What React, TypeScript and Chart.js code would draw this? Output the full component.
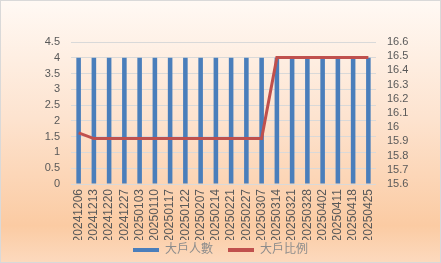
import React, { useEffect, useRef } from "react";
import { Chart, registerables } from "chart.js";

Chart.register(...registerables);

const categories = [
  "20241206", "20241213", "20241220", "20241227", "20250103", "20250110",
  "20250117", "20250122", "20250207", "20250214", "20250221", "20250227",
  "20250307", "20250314", "20250321", "20250328", "20250402", "20250411",
  "20250418", "20250425",
];
const holdersCount = [4, 4, 4, 4, 4, 4, 4, 4, 4, 4, 4, 4, 4, 4, 4, 4, 4, 4, 4, 4];
const holdersRatio = [
  15.96, 15.92, 15.92, 15.92, 15.92, 15.92, 15.92, 15.92, 15.92, 15.92,
  15.92, 15.92, 15.92, 16.49, 16.49, 16.49, 16.49, 16.49, 16.49, 16.49,
];
const seriesNames = ["大戶人數", "大戶比例"];

const fmt = (v: any) => String(Number(Number(v).toFixed(1)));

const legendShift = {
  id: "legendShift",
  afterLayout(chart: any) {
    const l = chart.legend;
    if (l) {
      l.top -= 11;
    }
  },
};

export default function App() {
  const ref = useRef<HTMLCanvasElement | null>(null);
  useEffect(() => {
    document.body.style.margin = "0";
    const ctx = ref.current!;
    const font = { family: "'Liberation Sans', 'Noto Sans CJK TC', sans-serif", size: 11 };
    const chart = new Chart(ctx, {
      type: "bar",
      data: {
        labels: categories,
        datasets: [
          {
            type: "bar",
            label: seriesNames[0],
            data: holdersCount,
            backgroundColor: "#4A7EBB",
            borderWidth: 0,
            barPercentage: 0.3,
            categoryPercentage: 1,
            yAxisID: "y",
            order: 2,
          },
          {
            type: "line",
            label: seriesNames[1],
            data: holdersRatio,
            borderColor: "#C0504D",
            backgroundColor: "#C0504D",
            borderWidth: 3,
            pointRadius: 0,
            tension: 0,
            yAxisID: "y1",
            order: 1,
          },
        ],
      },
      plugins: [legendShift],
      options: {
        animation: false,
        responsive: false,
        maintainAspectRatio: false,
        layout: { padding: { top: 42, bottom: -14, left: 0, right: 0 } },
        plugins: {
          tooltip: { enabled: false },
          legend: {
            position: "bottom",
            labels: {
              color: "#8C8C8C",
              font: { family: "'Liberation Sans', 'Noto Sans CJK TC', sans-serif", size: 12 },
              boxWidth: 26,
              boxHeight: 4,
              padding: 15,
              sort: (a: any, b: any) => a.datasetIndex - b.datasetIndex,
              generateLabels: (c: any) => {
                const items = Chart.defaults.plugins.legend.labels.generateLabels(c);
                return items.map((it: any) => ({ ...it, lineWidth: 0, strokeStyle: "transparent" }));
              },
            },
          },
        },
        scales: {
          x: {
            grid: { display: false, drawTicks: false },
            border: { display: false },
            ticks: {
              color: "#595959",
              font: { ...font, size: 12 },
              minRotation: 90,
              maxRotation: 90,
              padding: 5,
              autoSkip: false,
            },
            afterFit: (s: any) => { s.height = 56; },
          },
          y: {
            position: "left",
            min: 0,
            max: 4.5,
            grid: { color: "#D9D9D9", drawTicks: false, lineWidth: 1 },
            border: { display: false },
            ticks: { stepSize: 0.5, autoSkip: false, color: "#595959", font, padding: 11, callback: fmt },
            afterFit: (s: any) => { s.width = 71; },
          },
          y1: {
            position: "right",
            min: 15.6,
            max: 16.6,
            grid: { display: false, drawTicks: false },
            border: { display: false },
            ticks: { stepSize: 0.1, autoSkip: false, color: "#595959", font, padding: 11, callback: fmt },
            afterFit: (s: any) => { s.width = 65; },
          },
        },
      },
    } as any);
    return () => chart.destroy();
  }, []);

  return (
    <div
      style={{
        position: "fixed",
        left: 0,
        top: 0,
        width: 441,
        height: 263,
        boxSizing: "border-box",
        border: "1px solid #D9D9D9",
        background: "linear-gradient(to bottom, #FFF9F4 0%, #FDE3CF 45%, #FBCBA3 86%, #FCD9BD 100%)",
        overflow: "hidden",
      }}
    >
      <canvas ref={ref} width={441} height={263} style={{ position: "absolute", left: -1, top: -1, display: "block" }} />
    </div>
  );
}
